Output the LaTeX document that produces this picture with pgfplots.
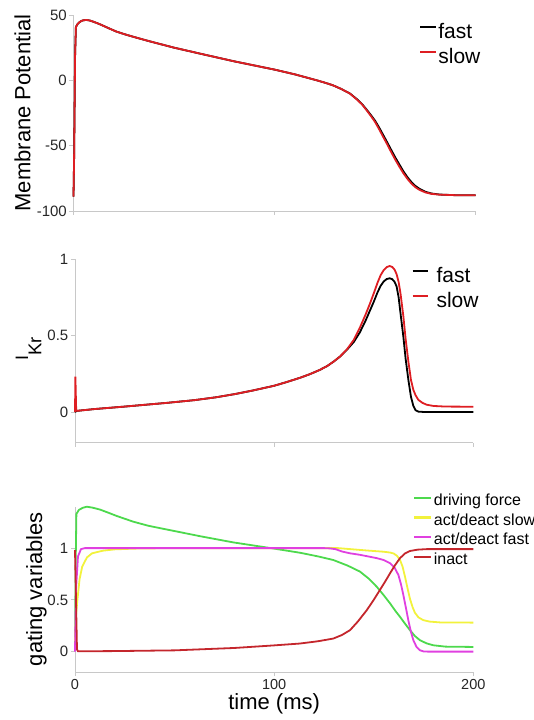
\documentclass[border=0pt]{standalone}
\usepackage{fontspec}
\setmainfont{Liberation Sans}
\usepackage{pgfplots}
\pgfplotsset{compat=1.18}
\definecolor{axisgray}{RGB}{200,200,200}
\definecolor{cRed}{RGB}{222,30,35}
\definecolor{cInact}{RGB}{196,38,44}
\definecolor{cGreen}{RGB}{77,217,77}
\definecolor{cYellow}{RGB}{242,242,60}
\definecolor{cMag}{RGB}{224,64,224}
\pgfplotsset{
  myax/.style={
    scale only axis, axis lines=left,
    axis line style={-, draw=axisgray, line width=0.9pt},
    tick style={draw=axisgray, line width=0.9pt},
    tick align=outside, major tick length=4pt,
    enlargelimits=false, clip=false,
    xmin=0, xmax=200, xtick={0,100,200},
    ticklabel style={font=\fontsize{15}{18}\selectfont, text=black!85},
    yticklabel style={inner sep=2.5pt},
    ylabel style={font=\fontsize{22}{26}\selectfont},
    xlabel style={font=\fontsize{22}{26}\selectfont},
    legend cell align=left,
  },
}
\begin{document}
\begin{tikzpicture}
\clip (0,0) rectangle (534pt,720pt);
% ---------- top panel ----------
\begin{axis}[myax,
  at={(73.5pt,509pt)}, anchor=south west,
  width=402.2pt, height=196pt,
  ymin=-100, ymax=50, ytick={-100,-50,0,50}, yticklabels={-100,-50,0,50},
  xticklabels={,,},
  ylabel={Membrane Potential},
  ylabel style={at={(axis description cs:-0.127,0.5)}, anchor=center},
  legend style={at={(axis description cs:0.860,0.959)}, anchor=north west,
    draw=none, fill=none, inner sep=0pt, outer sep=0pt, column sep=1pt, row sep=0pt,
    font=\fontsize{21}{25}\selectfont,
    nodes={inner sep=0pt, text height=15pt, text depth=10pt}},
  legend image code/.code={\draw[#1,line width=2pt] (0pt,8.5pt) -- (16pt,8.5pt);},
]
\addplot[black, line width=1.8pt] coordinates {
(0,-89) (0.3,-60) (0.8,20) (1.2,40.8) (2,43) (3,44.5) (4,45.5) (5,46) (6.5,46.2) (8,45.8)
(10,44.8) (13,43) (17,40.2) (21.5,37.2) (26,35) (30,33.2) (38,29.8) (50,25) (63,20.4)
(80,14.5) (100,8.2) (110,4.6) (121,0) (125,-1.8) (129,-3.8) (133,-6.5) (137.5,-10.1)
(141,-14.5) (143.5,-18.2) (145.7,-22.3) (148,-26.8) (150,-31) (152,-36.2) (154,-41.8)
(156,-47.5) (158,-53.3) (160,-59) (162,-64.3) (164,-69.5) (166,-74) (168,-77.8) (170,-80.8)
(172,-83) (175,-85.3) (178,-86.6) (182,-87.4) (190,-87.9) (200,-88)};
\addlegendentry{fast}
\addplot[cRed, line width=1.8pt] coordinates {
(0,-89) (0.3,-60) (0.8,20) (1.2,40.8) (2,43) (3,44.5) (4,45.5) (5,46) (6.5,46.2) (8,45.8)
(10,44.8) (13,43) (17,40.2) (21.5,37.2) (26,35) (30,33.2) (38,29.8) (50,25) (63,20.4)
(80,14.5) (100,8.2) (110,4.6) (121,0) (125,-1.8) (129,-3.8) (133,-6.5) (137.5,-10.2)
(141,-14.8) (143.5,-18.5) (145.7,-22.8) (148,-27.5) (150,-32) (152,-37.5) (154,-43.3)
(156,-49) (158,-55) (160,-60.7) (162,-66) (164,-71) (166,-75.3) (168,-79) (170,-81.8)
(172,-83.8) (175,-85.8) (178,-86.9) (182,-87.5) (190,-87.9) (200,-88)};
\addlegendentry{slow}
\end{axis}
% ---------- middle panel ----------
\begin{axis}[myax,
  at={(75pt,277.3pt)}, anchor=south west,
  width=398.3pt, height=183.7pt,
  ymin=-0.2, ymax=1, ytick={0,0.5,1}, yticklabels={0,0.5,1},
  xticklabels={,,},
  ylabel={\fontsize{18}{20}\selectfont I\raisebox{-13.4pt}{\fontsize{18.5}{20}\selectfont Kr}},
  ylabel style={at={(axis description cs:-0.1165,0.509)}, anchor=center},
  legend style={at={(axis description cs:0.845,0.956)}, anchor=north west,
    draw=none, fill=none, inner sep=0pt, outer sep=0pt, column sep=8pt, row sep=0pt,
    font=\fontsize{21}{25}\selectfont,
    nodes={inner sep=0pt, text height=15pt, text depth=10pt}},
  legend image code/.code={\draw[#1,line width=2pt] (0pt,8.5pt) -- (15pt,8.5pt);},
]
\addplot[black, line width=1.8pt] coordinates {
(0,0) (0.5,0.005) (1,0.008) (10,0.02) (25,0.036) (46,0.06) (60,0.078) (71,0.097) (80,0.117)
(90,0.143) (100,0.172) (106,0.195) (113,0.224) (118,0.248) (123,0.276) (126.5,0.3)
(129.7,0.328) (133,0.362) (136.4,0.405) (140,0.458) (143,0.52) (146,0.6) (148,0.66)
(150,0.72) (152,0.785) (153.5,0.825) (155,0.853) (156.5,0.869) (158,0.874) (159.3,0.868)
(160.5,0.85) (161.5,0.82) (162.5,0.75) (163.5,0.64) (164.9,0.49) (166,0.35) (167.4,0.21)
(168.7,0.1) (169.9,0.04) (171,0.012) (172.4,0.003) (176,0) (200,0)};
\addlegendentry{fast}
\addplot[cRed, line width=1.8pt] coordinates {
(0,0) (0.2,0.232) (0.6,0.01) (1,0.008) (10,0.02) (25,0.036) (46,0.06) (60,0.078) (71,0.097)
(80,0.117) (90,0.143) (100,0.172) (106,0.195) (113,0.224) (118,0.248) (123,0.276)
(126.5,0.3) (129.7,0.328) (133,0.362) (136.4,0.407) (140,0.472) (143,0.55) (146,0.64)
(148,0.705) (150,0.775) (152,0.848) (153.5,0.895) (155,0.927) (156.5,0.947) (158,0.954)
(159.3,0.948) (160.5,0.93) (161.5,0.9) (162.5,0.85) (163.5,0.77) (164.9,0.624) (166,0.48)
(167.4,0.33) (168.7,0.21) (169.9,0.145) (171,0.11) (172.4,0.08) (174.5,0.06) (176.6,0.048)
(180,0.04) (186,0.036) (200,0.035)};
\addlegendentry{slow}
\end{axis}
% ---------- bottom panel ----------
\begin{axis}[myax,
  at={(75pt,47.7pt)}, anchor=south west,
  width=398.3pt, height=165.6pt,
  ymin=-0.2, ymax=1.4, ytick={0,0.5,1}, yticklabels={0,0.5,1},
  xticklabels={0,100,200},
  xticklabel style={font=\fontsize{14.5}{17}\selectfont},
  ylabel={gating variables},
  ylabel style={at={(axis description cs:-0.0967,0.503)}, anchor=center},
  xlabel={time (ms)},
  xlabel style={at={(axis description cs:0.5,-0.192)}, anchor=center},
  legend style={at={(axis description cs:0.849,1.080)}, anchor=north west,
    draw=none, fill=none, inner sep=0pt, outer sep=0pt, column sep=1.5pt, row sep=0pt,
    font=\fontsize{16}{19}\selectfont,
    nodes={inner sep=0pt, text height=12pt, text depth=7.67pt}},
  legend image code/.code={\draw[#1,line width=2.2pt] (0pt,5.5pt) -- (17pt,5.5pt);},
]
\addplot[cGreen, line width=1.8pt] coordinates {
(0,0.02) (0.3,0.8) (0.7,1.33) (2,1.37) (4,1.39) (6,1.40) (9,1.39) (12.6,1.372) (17,1.34)
(21,1.31) (29.3,1.255) (37,1.215) (46,1.18) (62.8,1.115) (79.5,1.055) (100,0.995)
(113,0.955) (122,0.92) (129.7,0.885) (137,0.83) (143.1,0.773) (147.5,0.705) (151.5,0.627)
(155,0.545) (158.2,0.466) (161,0.39) (163.2,0.336) (165.7,0.27) (168.2,0.207) (170.7,0.15)
(173.2,0.11) (176.5,0.08) (179.9,0.061) (186,0.048) (200,0.045)};
\addlegendentry{driving force}
\addplot[cYellow, line width=1.8pt] coordinates {
(0,0.1) (0.5,0.35) (1.2,0.5) (2.3,0.7) (3.6,0.82) (6,0.91) (8.6,0.95) (14,0.975) (20,0.988)
(30,0.995) (50,1.0) (132,1.0) (146.5,0.977) (155,0.965) (158.2,0.957) (160,0.948) (161.7,0.925)
(163.2,0.886) (164.5,0.82) (165.7,0.724) (167,0.61) (168.2,0.51) (169.5,0.43) (170.7,0.375)
(172.5,0.33) (174.9,0.304) (178,0.29) (183.3,0.282) (200,0.28)};
\addlegendentry{act/deact slow}
\addplot[cMag, line width=1.8pt] coordinates {
(0,0) (0.5,0.6) (1.5,0.92) (3,0.99) (5,1.0) (125,1.0) (128,0.997) (130.8,0.99) (134.1,0.967)
(138,0.95) (143.1,0.935) (151.5,0.903) (155,0.885) (158.2,0.854) (160.5,0.81) (162.4,0.74)
(163.7,0.65) (164.9,0.545) (166.2,0.42) (167.4,0.3) (168.7,0.19) (169.9,0.11) (171.5,0.045)
(173.2,0.013) (175,0.002) (177,0) (200,0)};
\addlegendentry{act/deact fast}
\addplot[cInact, line width=1.8pt] coordinates {
(0,0.98) (0.5,0.5) (1,0.02) (1.5,0.003) (20,0.005) (50,0.012) (80,0.035) (100,0.06)
(113,0.078) (122,0.1) (129.7,0.126) (134,0.16) (138.1,0.207) (142,0.29) (146.5,0.40)
(150,0.5) (153.1,0.595) (156,0.685) (158.2,0.757) (160.7,0.835) (163.2,0.903) (165.7,0.948)
(168.2,0.972) (172,0.985) (176.6,0.99) (200,0.99)};
\addlegendentry{inact}
\end{axis}
\end{tikzpicture}
\end{document}
